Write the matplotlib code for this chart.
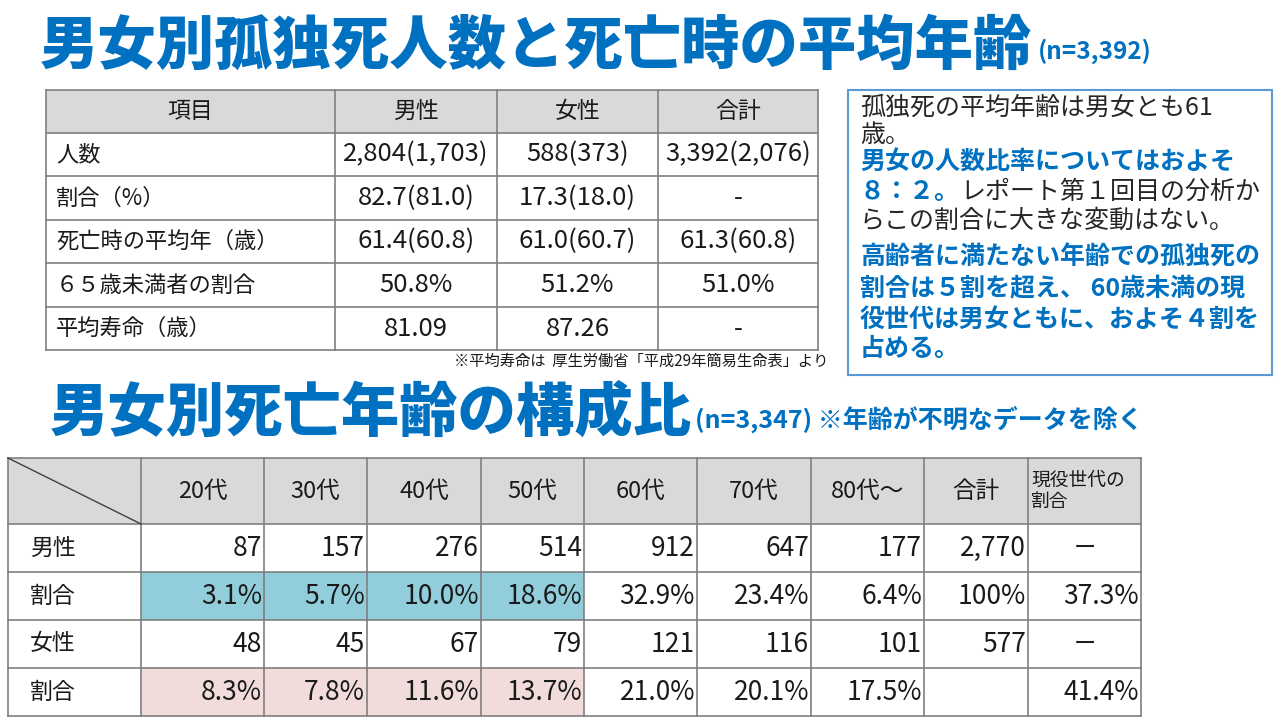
import matplotlib.pyplot as plt
from matplotlib.patches import Rectangle

plt.rcParams['font.family'] = ['Noto Sans CJK JP', 'DejaVu Sans']

BLUE = '#0070C0'
GRID = '#7F7F7F'
HEAD = '#D9D9D9'
TXT = '#1a1a1a'

# --- data: table 1 ---
t1_cols = ['項目', '男性', '女性', '合計']
t1_rows = ['人数', '割合（%）', '死亡時の平均年（歳）', '６５歳未満者の割合', '平均寿命（歳）']
t1_male = ['2,804(1,703)', '82.7(81.0)', '61.4(60.8)', '50.8%', '81.09']
t1_female = ['588(373)', '17.3(18.0)', '61.0(60.7)', '51.2%', '87.26']
t1_total = ['3,392(2,076)', '-', '61.3(60.8)', '51.0%', '-']

# --- data: table 2 ---
ages = ['20代', '30代', '40代', '50代', '60代', '70代', '80代～']
male_n = [87, 157, 276, 514, 912, 647, 177]
male_pct = [3.1, 5.7, 10.0, 18.6, 32.9, 23.4, 6.4]
female_n = [48, 45, 67, 79, 121, 116, 101]
female_pct = [8.3, 7.8, 11.6, 13.7, 21.0, 20.1, 17.5]
male_total, female_total = 2770, 577
male_total_pct, female_total_pct = '100%', ''
male_working, female_working = 37.3, 41.4

# --- text box ---
box_lines = [
    [('孤独死の平均年齢は男女とも61', False)],
    [('歳。', False)],
    [('男女の人数比率についてはおよそ', True)],
    [('８：２。', True), ('レポート第１回目の分析か', False)],
    [('らこの割合に大きな変動はない。', False)],
    [('高齢者に満たない年齢での孤独死の', True)],
    [('割合は５割を超え、 60歳未満の現', True)],
    [('役世代は男女ともに、およそ４割を', True)],
    [('占める。', True)],
]

fig = plt.figure(figsize=(12.8, 7.22), dpi=100)
ax = fig.add_axes([0, 0, 1, 1])
ax.set_xlim(0, 1280)
ax.set_ylim(722, 0)
ax.axis('off')

# titles
ax.text(40, 46, '男女別孤独死人数と死亡時の平均年齢', fontsize=42, fontweight='black',
        color=BLUE, va='center', ha='left')
ax.text(1038, 51, '(n=3,392)', fontsize=17.5, fontweight='bold', color=BLUE, va='center')
ax.text(50, 413, '男女別死亡年齢の構成比', fontsize=42, fontweight='black',
        color=BLUE, va='center', ha='left')
ax.text(695, 419, '(n=3,347) ※年齢が不明なデータを除く', fontsize=18, fontweight='bold',
        color=BLUE, va='center')

# ---------- table 1 ----------
xs1 = [46, 335, 497, 658, 818]
ys1 = [90, 133, 176, 220, 263, 307, 350]
ax.add_patch(Rectangle((xs1[0], ys1[0]), xs1[-1] - xs1[0], ys1[1] - ys1[0],
                       facecolor=HEAD, edgecolor='none'))
for x in xs1:
    ax.plot([x, x], [ys1[0], ys1[-1]], color=GRID, lw=1.2)
for y in ys1:
    ax.plot([xs1[0], xs1[-1]], [y, y], color=GRID, lw=1.2)

for j, c in enumerate(t1_cols):
    ax.text((xs1[j] + xs1[j + 1]) / 2, (ys1[0] + ys1[1]) / 2, c, fontsize=16.5,
            ha='center', va='center', color=TXT)
cols1 = [t1_male, t1_female, t1_total]
for i, r in enumerate(t1_rows):
    yc = (ys1[i + 1] + ys1[i + 2]) / 2
    ax.text(xs1[0] + 10, yc, r, fontsize=16, ha='left', va='center', color=TXT)
    for j, col in enumerate(cols1):
        ax.text((xs1[j + 1] + xs1[j + 2]) / 2, yc, col[i], fontsize=18.5,
                ha='center', va='center', color=TXT)
ax.text(828, 361, '※平均寿命は  厚生労働省「平成29年簡易生命表」より', fontsize=11,
        ha='right', va='center', color=TXT)

# ---------- text box ----------
ax.add_patch(Rectangle((848, 90), 424, 285, facecolor='white', edgecolor='#5B9BD5', lw=1.5))
line_y = [108, 135, 163, 192, 221, 257, 289, 320, 349]
fig.canvas.draw()
renderer = fig.canvas.get_renderer()
for y, parts in zip(line_y, box_lines):
    x = 860
    for s, bold in parts:
        t = ax.text(x, y, s, fontsize=18, fontweight='bold' if bold else 'normal',
                    color=BLUE if bold else '#262626', ha='left', va='center')
        bb = t.get_window_extent(renderer=renderer)
        x += bb.width

# ---------- table 2 ----------
xs2 = [8, 141, 264, 367, 481, 584, 697, 811, 924, 1028, 1141]
ys2 = [458, 524, 572, 620, 668, 716]
ax.add_patch(Rectangle((xs2[0], ys2[0]), xs2[-1] - xs2[0], ys2[1] - ys2[0],
                       facecolor=HEAD, edgecolor='none'))
for j in range(4):
    ax.add_patch(Rectangle((xs2[j + 1], ys2[2]), xs2[j + 2] - xs2[j + 1], ys2[3] - ys2[2],
                           facecolor='#92CDDC', edgecolor='none'))
    ax.add_patch(Rectangle((xs2[j + 1], ys2[4]), xs2[j + 2] - xs2[j + 1], ys2[5] - ys2[4],
                           facecolor='#F2DCDB', edgecolor='none'))
for x in xs2:
    ax.plot([x, x], [ys2[0], ys2[-1]], color=GRID, lw=1.2)
for y in ys2:
    ax.plot([xs2[0], xs2[-1]], [y, y], color=GRID, lw=1.2)
ax.plot([xs2[0], xs2[1]], [ys2[0], ys2[1]], color='#404040', lw=1)

hy = (ys2[0] + ys2[1]) / 2
for j, a in enumerate(ages + ['合計']):
    ax.text((xs2[j + 1] + xs2[j + 2]) / 2, hy, a, fontsize=17, ha='center', va='center', color=TXT)
ax.text(xs2[-2] + 3, hy, '現役世代の\n割合', fontsize=13.5, ha='left', va='center',
        color=TXT, linespacing=1.0)

rows2 = [
    ('男性', [f'{v:,}' for v in male_n] + [f'{male_total:,}'], 'ー'),
    ('割合', [f'{v:.1f}%' for v in male_pct] + [male_total_pct], f'{male_working:.1f}%'),
    ('女性', [f'{v:,}' for v in female_n] + [f'{female_total:,}'], 'ー'),
    ('割合', [f'{v:.1f}%' for v in female_pct] + [female_total_pct], f'{female_working:.1f}%'),
]
for i, (lab, vals, last) in enumerate(rows2):
    yc = (ys2[i + 1] + ys2[i + 2]) / 2
    ax.text(xs2[0] + 22, yc, lab, fontsize=16.5, ha='left', va='center', color=TXT)
    for j, v in enumerate(vals):
        ax.text(xs2[j + 2] - 2, yc, v, fontsize=19, ha='right', va='center', color=TXT)
    if last == 'ー':
        ax.text((xs2[-2] + xs2[-1]) / 2, yc, last, fontsize=16, ha='center', va='center', color=TXT)
    else:
        ax.text(xs2[-1] - 2, yc, last, fontsize=19, ha='right', va='center', color=TXT)

fig.savefig('out.png', dpi=100, facecolor='white')
